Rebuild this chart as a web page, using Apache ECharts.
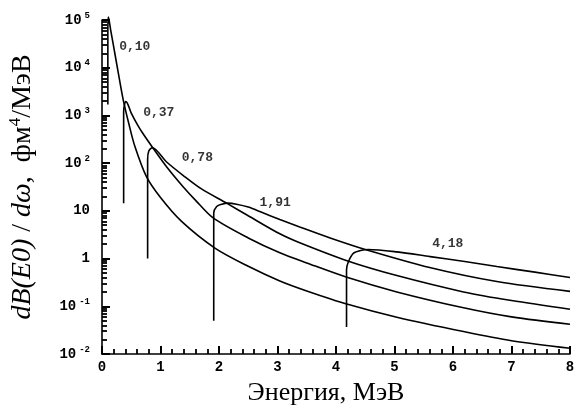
<!DOCTYPE html>
<html style="height: 100%" lang="ru">
<head>
    <meta charset="UTF-8">
    <title>dB(E0)/dω</title>
    <script src="https://cdn.jsdelivr.net/npm/echarts@6/dist/echarts.min.js"></script>
</head>
<body style="height: 100%; margin: 0; background: #fff">
<div id="main" style="width: 575px; height: 412px"></div>

<script type="text/javascript">
    // кривые для порогов E0 = 0,10 / 0,37 / 0,78 / 1,91 / 4,18 МэВ
    var eA = [0.10, 0.10, 0.11, 0.15, 0.19, 0.28, 0.36, 0.46, 0.56, 0.76, 1.0, 1.36, 1.93, 2.5, 3.04, 3.5, 4.2, 5.04, 6.18, 7.0, 8.0];
    var vA = [1.7e3, 6e4, 1.15e5, 6e4, 3.2e4, 7.6e3, 2.2e3, 660, 229, 52, 19, 6.0, 1.66, 0.69, 0.34, 0.21, 0.11, 0.059, 0.0295, 0.019, 0.0132];

    var eB = [0.37, 0.37, 0.39, 0.41, 0.5, 0.6, 0.7, 0.88, 1.1, 1.39, 1.6, 1.9, 2.5, 3.04, 3.5, 4.2, 5.04, 6.18, 7.0, 8.0];
    var vB = [14.5, 1.2e3, 1.8e3, 1.95e3, 1.12e3, 660, 417, 200, 85, 31.6, 16.6, 7.1, 2.7, 1.32, 0.81, 0.40, 0.20, 0.093, 0.060, 0.042];

    var eC = [0.78, 0.78, 0.80, 0.86, 1.1, 1.39, 1.7, 2.13, 2.5, 3.04, 3.38, 4.2, 5.04, 6.18, 7.0, 8.0];
    var vC = [1.0, 1.2e2, 1.8e2, 2.1e2, 107, 55, 28.8, 14.5, 7.9, 3.3, 2.14, 0.89, 0.44, 0.2, 0.132, 0.087];

    var eD = [1.91, 1.91, 1.96, 2.05, 2.15, 2.3, 2.5, 2.75, 3.04, 3.38, 3.9, 4.5, 5.6, 6.75, 8.0];
    var vD = [0.05, 8.9, 12.3, 13.8, 14.5, 13.8, 12, 9.1, 6.6, 4.6, 2.7, 1.55, 0.65, 0.33, 0.205];

    var eE = [4.18, 4.18, 4.21, 4.3, 4.44, 4.55, 5.04, 5.61, 6.2, 6.75, 7.4, 8.0];
    var vE = [0.037, 0.58, 0.85, 1.3, 1.5, 1.55, 1.38, 1.1, 0.87, 0.68, 0.52, 0.4];

    // подписи кривых
    var labelText = ['0,10', '0,37', '0,78', '1,91', '4,18'];
    var labelE = [0.56, 0.97, 1.63, 2.96, 5.91];
    var labelV = [2.8e4, 1.12e3, 132, 15, 2.0];

    // деления осей
    var yTickValues = [0.01, 0.1, 1, 10, 100, 1000, 1e4, 1e5];
    var yTickText = ['10{s|-2}', '10{s|-1}', '1', '10', '10{s|2}', '10{s|3}', '10{s|4}', '10{s|5}'];
    var yMinor = [];
    for (var d = -2; d < 5; d++) {
        for (var m = 2; m <= 9; m++) {
            yMinor.push(m * Math.pow(10, d));
        }
    }

    function pairs(xs, ys) {
        return xs.map(function (x, i) { return [x, ys[i]]; });
    }

    function curve(name, xs, ys) {
        return {
            name: name,
            type: 'line',
            data: pairs(xs, ys),
            showSymbol: false,
            smooth: 0.3,
            clip: false,
            lineStyle: {color: '#000', width: 1.6},
            silent: true
        };
    }

    var myChart = echarts.init(document.getElementById('main'));
    var option = {
        animation: false,
        backgroundColor: '#fff',
        grid: {left: 102, right: 5, top: 20, bottom: 58, outerBoundsMode: 'none'},
        xAxis: {
            type: 'value',
            min: 0,
            max: 8,
            interval: 1,
            name: 'Энергия, МэВ',
            nameLocation: 'middle',
            nameGap: 26,
            nameTextStyle: {fontFamily: 'Liberation Serif', fontSize: 26, color: '#000', padding: [0, 20, 0, 0]},
            axisLine: {lineStyle: {color: '#000', width: 1.6}},
            axisTick: {show: true, inside: true, length: 8, lineStyle: {color: '#000', width: 2}},
            minorTick: {show: true, splitNumber: 5, length: 5, lineStyle: {color: '#000', width: 1.8}},
            splitLine: {show: false},
            axisLabel: {margin: 6, color: '#000', fontFamily: 'Liberation Mono', fontWeight: 'bold', fontSize: 14}
        },
        yAxis: [{
            type: 'log',
            logBase: 10,
            min: 0.01,
            max: 1e5,
            name: '{i|dB(E0)} / {i|dω},  фм{s|4}/МэВ',
            nameLocation: 'middle',
            nameRotate: 90,
            nameGap: 64,
            nameTextStyle: {
                fontFamily: 'Liberation Serif', fontSize: 28, color: '#000',
                rich: {
                    i: {fontFamily: 'Liberation Serif', fontStyle: 'italic', fontSize: 28, color: '#000'},
                    s: {fontFamily: 'Liberation Serif', fontSize: 17, color: '#000', verticalAlign: 'top', padding: [0, 0, 14, 0]}
                }
            },
            axisLine: {lineStyle: {color: '#000', width: 1.6}},
            axisTick: {show: true, inside: true, length: 8, customValues: yTickValues, lineStyle: {color: '#000', width: 2}},
            splitLine: {show: false},
            axisLabel: {
                margin: 12,
                customValues: yTickValues,
                color: '#000',
                fontFamily: 'Liberation Mono',
                fontWeight: 'bold',
                fontSize: 14,
                formatter: function (v) {
                    var i = yTickValues.findIndex(function (t) { return Math.abs(Math.log10(t) - Math.log10(v)) < 1e-6; });
                    return i >= 0 ? yTickText[i] : '';
                },
                rich: {
                    s: {fontFamily: 'Liberation Mono', fontWeight: 'bold', fontSize: 9, color: '#000', padding: [0, 0, 9, 3]}
                }
            }
        }, {
            type: 'log',
            logBase: 10,
            min: 0.01,
            max: 1e5,
            position: 'left',
            axisLine: {show: false},
            axisLabel: {show: false},
            splitLine: {show: false},
            axisTick: {show: true, inside: true, length: 5, customValues: yMinor, lineStyle: {color: '#000', width: 1.8}}
        }],
        series: [
            curve('0,10', eA, vA),
            curve('0,37', eB, vB),
            curve('0,78', eC, vC),
            curve('1,91', eD, vD),
            curve('4,18', eE, vE),
            {
                type: 'scatter',
                symbolSize: 0,
                silent: true,
                data: labelText.map(function (t, i) { return [labelE[i], labelV[i], t]; }),
                label: {
                    show: true,
                    position: 'inside',
                    formatter: function (p) { return p.data[2]; },
                    color: '#000',
                    fontFamily: 'Liberation Mono',
                    fontWeight: 'bold',
                    fontSize: 13
                }
            }
        ]
    };
    myChart.setOption(option);
</script>
</body>
</html>
